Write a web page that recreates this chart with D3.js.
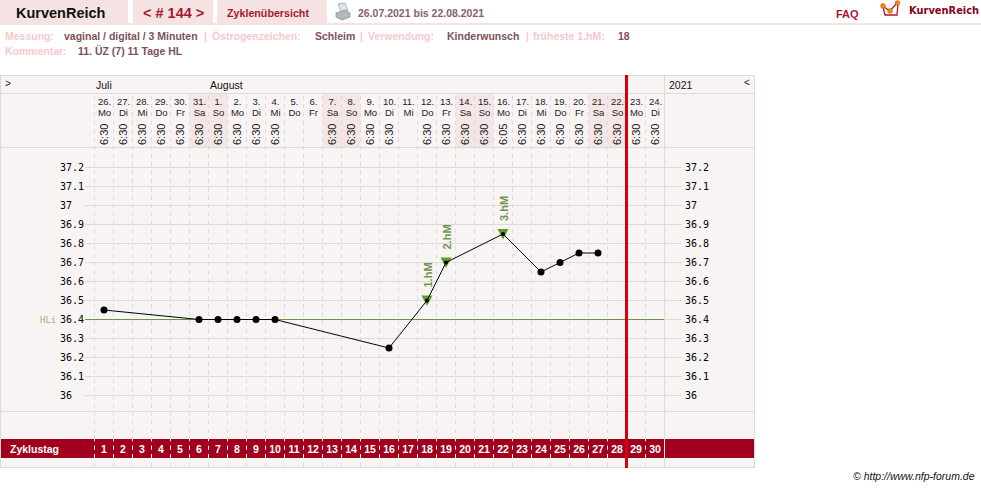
<!DOCTYPE html>
<html><head><meta charset="utf-8">
<script src="https://d3js.org/d3.v7.min.js"></script>
<style>html,body{margin:0;padding:0;background:#fff;overflow:hidden}svg{display:block;font-family:"Liberation Sans",Arial,sans-serif}</style>
</head><body><div id="c"></div>
<script>
const cycleDays = d3.range(1, 31);
const dates = ["26.","27.","28.","29.","30.","31.","1.","2.","3.","4.","5.","6.","7.","8.","9.","10.","11.","12.","13.","14.","15.","16.","17.","18.","19.","20.","21.","22.","23.","24."];
const weekdays = ["Mo","Di","Mi","Do","Fr","Sa","So","Mo","Di","Mi","Do","Fr","Sa","So","Mo","Di","Mi","Do","Fr","Sa","So","Mo","Di","Mi","Do","Fr","Sa","So","Mo","Di"];
const times = ["6:30","6:30","6:30","6:30","6:30","6:30","6:30","6:30","6:30","6:30","","","6:30","6:30","6:30","6:30","","6:30","6:30","6:30","6:30","6:05","6:30","6:30","6:30","6:30","6:30","6:30","6:30","6:30"];
const tempDays = [1,6,7,8,9,10,16,18,19,22,24,25,26,27];
const tempValues = [36.45,36.4,36.4,36.4,36.4,36.4,36.25,36.5,36.7,36.85,36.65,36.7,36.75,36.75];
const markerDays = [18,19,22];
const markerValues = [36.5,36.7,36.85];
const markerLabels = ["1.hM","2.hM","3.hM"];
const yTicks = [36,36.1,36.2,36.3,36.4,36.5,36.6,36.7,36.8,36.9,37,37.1,37.2];
const coverLine = 36.4;
const ovulationDay = 28;

const W=981,H=488;
const svg=d3.select("#c").append("svg").attr("width",W).attr("height",H);
const x=d3.scaleBand().domain(cycleDays).range([94.5,664.5]);
const y=d3.scaleLinear().domain([36,37.2]).range([395.5,167.5]);
const cx=d=>x(d)+x.bandwidth()/2;
const grid="#dedad9", panel="#f9f4f4", pink="#f5e3e4", shade="#f4e6e7", maroon="#a0001e";
const dash="4,4.33", dashStart=95.8;

function txt(s,px,py,o={}){
  const t=svg.append("text").attr("x",px).attr("y",py).text(s)
    .attr("font-size",o.size||11).attr("fill",o.fill||"#000")
    .attr("font-weight",o.weight||"normal").attr("text-anchor",o.anchor||"start");
  if(o.family) t.attr("font-family",o.family);
  return t;
}
// top tabs
[[0,128],[133,80],[217,110]].forEach(t=>svg.append("rect").attr("x",t[0]).attr("y",0).attr("width",t[1]).attr("height",23).attr("fill",pink));
svg.append("rect").attr("x",0).attr("y",23).attr("width",W).attr("height",2).attr("fill",pink);
txt("KurvenReich",16,18,{size:14.5,weight:"bold",fill:"#111"});
txt("< # 144 >",143,18,{size:14.5,weight:"bold",fill:"#a8182c"});
txt("Zyklenübersicht",227,17,{size:10.7,weight:"bold",fill:"#a8182c"});
txt("26.07.2021 bis 22.08.2021",358,17,{size:10.5,weight:"bold",fill:"#8a6068"});
txt("FAQ",836,18,{size:11,weight:"bold",fill:"#a8182c"});
txt("KurvenReich",909,14,{size:9.9,weight:"bold",fill:"#8c0018",family:"DejaVu Sans"});
// printer icon
const pr=svg.append("g");
pr.append("path").attr("d","M338 4 L345 3 L348 11 L341 12 Z").attr("fill","#dbe8f0").attr("stroke","#8fa8b8").attr("stroke-width",.8);
pr.append("path").attr("d","M336 13 L345 10 L350 13 L350 17 L342 20 L336 17 Z").attr("fill","#b4b8ba").attr("stroke","#85898c").attr("stroke-width",.7);
// logo
const lg=svg.append("g");
lg.append("path").attr("d","M883 7 L885 15 L897 15 L898 4 M884 7 L890 11 L897 3").attr("fill","none").attr("stroke","#a8182c").attr("stroke-width",1.3);
[[883,6],[890,11],[897.5,3]].forEach(p=>lg.append("circle").attr("cx",p[0]).attr("cy",p[1]).attr("r",2.4).attr("fill","#f09000").attr("stroke","#c04010").attr("stroke-width",.5));
// info lines
const lab="#f7c9cc", val="#7d5158";
[["Messung:",5,lab],["vaginal / digital / 3 Minuten",64,val],["|",204,lab],["Östrogenzeichen:",212,lab],["Schleim",315,val],["|",360,lab],["Verwendung:",368,lab],["Kinderwunsch",447,val],["|",526,lab],["früheste 1.hM:",533,lab],["18",618,val]]
 .forEach(a=>txt(a[0],a[1],40,{size:10.5,weight:"bold",fill:a[2]}));
txt("Kommentar:",5,55,{size:10.5,weight:"bold",fill:lab});
txt("11. ÜZ (7) 11 Tage HL",78,55,{size:10.5,weight:"bold",fill:val});

// panel
svg.append("rect").attr("x",.5).attr("y",75.5).attr("width",754).attr("height",392).attr("fill",panel).attr("stroke",grid);
// weekend shading
svg.selectAll(".we").data(cycleDays.filter((d,i)=>weekdays[i]=="Sa"||weekdays[i]=="So")).join("rect")
  .attr("x",d=>x(d)).attr("y",94).attr("width",x.bandwidth()).attr("height",53.5).attr("fill",shade);
// row and column separators
[93.5,147.5,411.5].forEach(r=>svg.append("line").attr("x1",1).attr("x2",754).attr("y1",r).attr("y2",r).attr("stroke",grid));
svg.append("line").attr("x1",664.5).attr("x2",664.5).attr("y1",76).attr("y2",467).attr("stroke",grid);
// day separators
const seps=cycleDays.map(d=>x(d));
svg.selectAll(".sep").data(seps).join("line").attr("x1",d=>d).attr("x2",d=>d).attr("y1",dashStart).attr("y2",467)
  .attr("stroke",grid).attr("stroke-dasharray",dash);
// y axes with gridlines
function axis(g,a){
  g.call(a); g.select(".domain").remove();
  g.selectAll("line").attr("stroke",grid);
  g.selectAll("text").attr("font-family","DejaVu Sans Mono").attr("font-size",10).attr("fill","#000").attr("text-anchor","start");
}
const fmt=d=>String(d);
const la=svg.append("g").attr("transform","translate(85,0)");
axis(la,d3.axisRight(y).offset(0).tickValues(yTicks).tickSize(597).tickSizeOuter(0).tickFormat(""));
const lt=svg.append("g").attr("transform","translate(60,0)");
axis(lt,d3.axisRight(y).offset(0).tickValues(yTicks).tickSize(0).tickPadding(0).tickFormat(fmt));
const rt=svg.append("g").attr("transform","translate(685,0)");
axis(rt,d3.axisRight(y).offset(0).tickValues(yTicks).tickSize(0).tickPadding(0).tickFormat(fmt));
// cover line
svg.append("line").attr("x1",85).attr("x2",664).attr("y1",y(coverLine)).attr("y2",y(coverLine)).attr("stroke","#6f9440");
txt("HLi",40,y(coverLine)+3,{size:9,fill:"#6f9440",family:"DejaVu Sans Mono"}).attr("opacity",.7);
// zyklustag band
svg.append("rect").attr("x",1).attr("y",439).attr("width",753).attr("height",19).attr("fill",maroon);
svg.append("clipPath").attr("id","band").append("rect").attr("x",0).attr("y",439).attr("width",W).attr("height",19);
svg.selectAll(".sep2").data(seps).join("line").attr("x1",d=>d).attr("x2",d=>d).attr("y1",dashStart).attr("y2",467)
  .attr("stroke","#fff").attr("stroke-dasharray",dash)
  .attr("clip-path","url(#band)");
svg.append("line").attr("x1",664.5).attr("x2",664.5).attr("y1",439).attr("y2",458).attr("stroke","#eee");
// header text
txt(">",5,87,{size:10,fill:"#222"});txt("<",744,86,{size:10,fill:"#222"});
txt("Juli",96,89,{size:10.5,fill:"#111"});txt("August",210,89,{size:10.5,fill:"#111"});txt("2021",669,89,{size:10.5,fill:"#111"});
const head=svg.append("g").attr("font-size",9.5).attr("fill","#222").attr("text-anchor","middle");
cycleDays.forEach((d,i)=>{
  head.append("text").attr("x",cx(d)+.5).attr("y",104.5).text(dates[i]);
  head.append("text").attr("x",cx(d)+.5).attr("y",115.5).text(weekdays[i]);
  if(times[i]) head.append("text").attr("transform",`translate(${cx(d)+4},145) rotate(-90)`).attr("text-anchor","start").attr("font-size",11).text(times[i]);
});
// zyklustag labels
txt("Zyklustag",10,453,{size:10.5,weight:"bold",fill:"#fff"});
svg.selectAll(".cd").data(cycleDays).join("text").attr("x",d=>cx(d)).attr("y",453).attr("text-anchor","middle")
  .attr("font-size",10.5).attr("font-weight","bold").attr("fill","#fff").text(d=>d);
// markers
markerDays.forEach((d,i)=>{
  const mx=cx(d), my=y(markerValues[i]);
  svg.append("path").attr("d",`M${mx-5.5} ${my-5} L${mx+5.5} ${my-5} L${mx} ${my+5.5} Z`).attr("fill","#5f9a2a");
  svg.append("text").attr("transform",`translate(${mx+4.5},${my-13}) rotate(-90)`).attr("font-size",11).attr("font-weight","bold").attr("fill","#6f9450").text(markerLabels[i]);
});
// temperature line
const pts=tempDays.map((d,i)=>[cx(d),y(tempValues[i])]);
svg.append("path").attr("d",d3.line()(pts)).attr("fill","none").attr("stroke","#000").attr("stroke-width",1);
svg.selectAll(".pt").data(tempDays).join("circle").attr("cx",d=>cx(d)).attr("cy",(d,i)=>y(tempValues[i]))
  .attr("r",d=>markerDays.includes(d)?2:3.5).attr("fill","#000");
// ovulation line
svg.append("rect").attr("x",x(ovulationDay)+x.bandwidth()-1.5).attr("y",75).attr("width",3).attr("height",393).attr("fill","#d80008");
// credit
txt("© http://www.nfp-forum.de",853,480,{size:10.5,fill:"#111"}).attr("font-style","italic");
</script></body></html>
